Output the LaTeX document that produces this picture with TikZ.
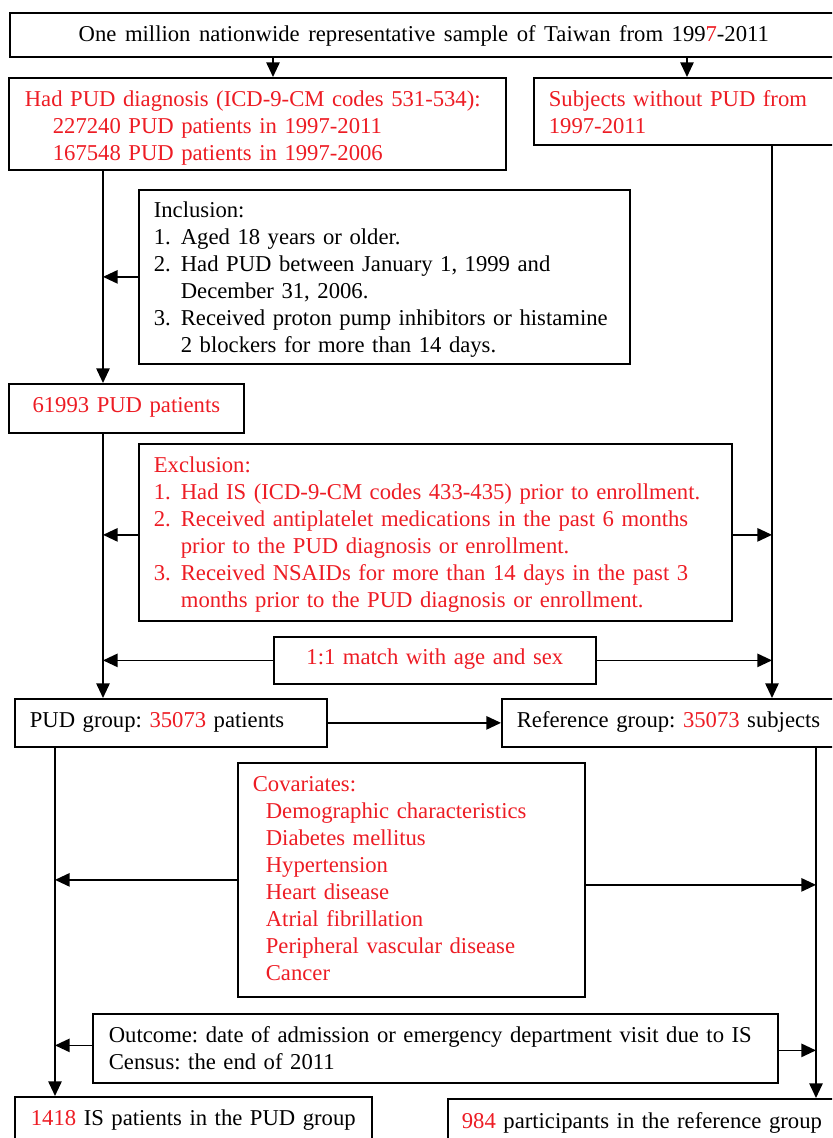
\documentclass[tikz,border=0pt]{standalone}
\usepackage{fontspec}
\setmainfont{Liberation Serif}
\usetikzlibrary{arrows.meta,calc}
\definecolor{rd}{RGB}{237,28,36}
\newcommand{\itm}[1]{\makebox[20.25pt][l]{#1}}
\newcommand{\ind}{\hspace*{20.25pt}}
\frenchspacing
\begin{document}
\begin{tikzpicture}[x=0.75pt,y=-0.75pt,
  font=\fontsize{17pt}{20.25pt}\selectfont,
  box/.style={draw, line width=1.3pt, anchor=north west, inner ysep=0pt, align=left},
  arr/.style={line width=1.3pt, -{Triangle[length=11pt,width=10pt]}},
  red/.style={text=rd}]
\useasboundingbox (0,0) rectangle (832,1138);
\clip (0,0) rectangle (832,1138);
% column coordinates
\coordinate (c1) at (273,0);
\coordinate (c2) at (687,0);
\coordinate (cL) at (103,0);
\coordinate (cR) at (772,0);
\coordinate (cL2) at (55,0);
\coordinate (cR2) at (816,0);
% boxes
\node[box, align=center, inner xsep=0pt, text width={828*0.75pt}, text height={29*0.75pt}, text depth={15*0.75pt}] (top) at (9,12)
  {\spaceskip=6.4pt One million nationwide representative sample of Taiwan from 199\textcolor{rd}{7}-2011};
\node[box, red, inner xsep={16*0.75pt}, text width={465*0.75pt}, text height={29*0.75pt}, text depth={63*0.75pt}] (b2) at (8,77)
  {Had PUD diagnosis (ICD-9-CM codes 531-534):\\
   \hspace*{21pt}227240 PUD patients in 1997-2011\\
   \hspace*{21pt}167548 PUD patients in 1997-2006};
\node[box, red, inner xsep={15*0.75pt}, text width={287*0.75pt}, text height={29*0.75pt}, text depth={38*0.75pt}] (b3) at (533,77)
  {Subjects without PUD from\\1997-2011};
\node[box, inner xsep={15*0.75pt}, text width={461*0.75pt}, text height={28*0.75pt}, text depth={146*0.75pt}] (incl) at (138,189)
  {Inclusion:\\
   \itm{1.}Aged 18 years or older.\\
   \itm{2.}Had PUD between January 1, 1999 and\\
   \ind December 31, 2006.\\
   \itm{3.}Received proton pump inhibitors or histamine\\
   \ind 2 blockers for more than 14 days.};
\node[box, red, align=center, inner xsep=0pt, text width={235*0.75pt}, text height={29*0.75pt}, text depth={20*0.75pt}] (n1) at (8,383)
  {61993 PUD patients};
\node[box, red, inner xsep={15*0.75pt}, text width={563*0.75pt}, text height={29*0.75pt}, text depth={148*0.75pt}] (excl) at (138,443)
  {Exclusion:\\
   \itm{1.}Had IS (ICD-9-CM codes 433-435) prior to enrollment.\\
   \itm{2.}Received antiplatelet medications in the past 6 months\\
   \ind prior to the PUD diagnosis or enrollment.\\
   \itm{3.}Received NSAIDs for more than 14 days in the past 3\\
   \ind months prior to the PUD diagnosis or enrollment.};
\node[box, red, align=center, inner xsep=0pt, text width={322*0.75pt}, text height={28*0.75pt}, text depth={19*0.75pt}] (match) at (273,636)
  {1:1 match with age and sex};
\node[box, inner xsep={15*0.75pt}, text width={282*0.75pt}, text height={29*0.75pt}, text depth={19*0.75pt}] (pud) at (14,698)
  {PUD group: \textcolor{rd}{35073} patients};
\node[box, inner xsep={15*0.75pt}, text width={319*0.75pt}, text height={29*0.75pt}, text depth={19*0.75pt}] (ref) at (501,698)
  {Reference group: \textcolor{rd}{35073} subjects};
\node[box, red, inner xsep={15*0.75pt}, text width={317*0.75pt}, text height={29*0.75pt}, text depth={205*0.75pt}] (cov) at (237,762)
  {Covariates:\\
   \hspace*{9.75pt}Demographic characteristics\\
   \hspace*{9.75pt}Diabetes mellitus\\
   \hspace*{9.75pt}Hypertension\\
   \hspace*{9.75pt}Heart disease\\
   \hspace*{9.75pt}Atrial fibrillation\\
   \hspace*{9.75pt}Peripheral vascular disease\\
   \hspace*{9.75pt}Cancer};
\node[box, inner xsep={16*0.75pt}, text width={653*0.75pt}, text height={29*0.75pt}, text depth={40*0.75pt}] (out) at (92,1013)
  {Outcome: date of admission or emergency department visit due to IS\\
   Census: the end of 2011};
\node[box, inner xsep={16*0.75pt}, text width={325*0.75pt}, text height={29*0.75pt}, text depth={25*0.75pt}] (res1) at (14,1096)
  {\textcolor{rd}{1418} IS patients in the PUD group};
\node[box, inner xsep={14*0.75pt}, text width={375*0.75pt}, text height={30*0.75pt}, text depth={22*0.75pt}] (res2) at (447,1098)
  {\textcolor{rd}{984} participants in the reference group};
% connectors
\draw[arr] (top.south -| c1) -- (b2.north -| c1);
\draw[arr] (top.south -| c2) -- (b3.north -| c2);
\draw[arr] (b2.south -| cL) -- (n1.north -| cL);
\draw[arr] (incl.west) -- (incl.west -| cL);
\draw[arr] (n1.south -| cL) -- (pud.north -| cL);
\draw[arr] (b3.south -| cR) -- (ref.north -| cR);
\coordinate (exl) at ($(excl.west)+(0,2.5)$);
\coordinate (exr) at ($(excl.east)+(0,2.5)$);
\draw[arr] (exl) -- (exl -| cL);
\draw[arr] (exr) -- (exr -| cR);
\draw[arr] (match.west) -- (match.west -| cL);
\draw[arr] (match.east) -- (match.east -| cR);
\draw[arr] (pud.east) -- (ref.west);
\draw[arr] (pud.south -| cL2) -- (res1.north -| cL2);
\draw[arr] (ref.south -| cR2) -- (res2.north -| cR2);
\coordinate (cvr) at ($(cov.east)+(0,5)$);
\draw[arr] (cov.west) -- (cov.west -| cL2);
\draw[arr] (cvr) -- (cvr -| cR2);
\coordinate (otl) at ($(out.west)+(0,-3)$);
\coordinate (otr) at ($(out.east)+(0,2)$);
\draw[arr] (otl) -- (otl -| cL2);
\draw[arr] (otr) -- (otr -| cR2);
\end{tikzpicture}
\end{document}
